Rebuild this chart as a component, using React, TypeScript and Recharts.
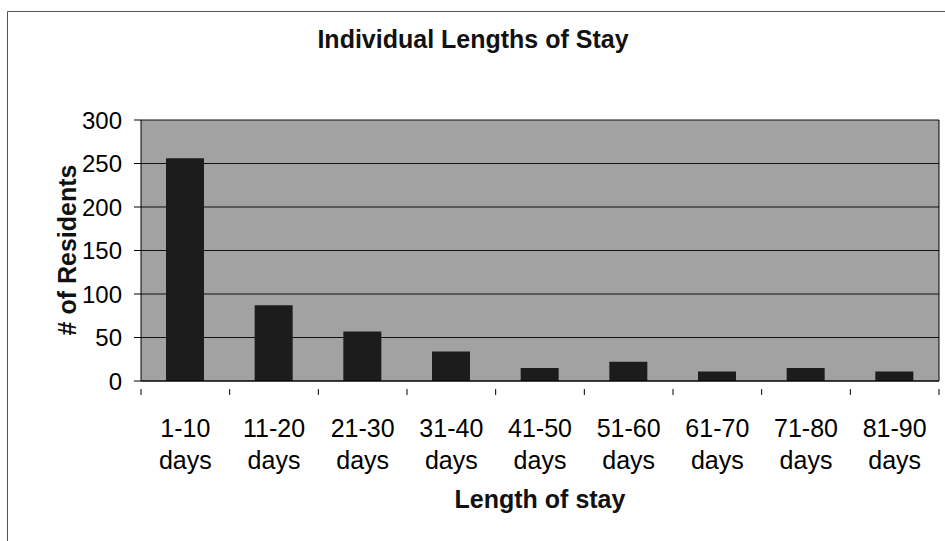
import React from 'react';
import { BarChart, Bar, XAxis, YAxis, CartesianGrid } from 'recharts';

const categories = ['1-10 days', '11-20 days', '21-30 days', '31-40 days', '41-50 days', '51-60 days', '61-70 days', '71-80 days', '81-90 days'];
const residents = [256, 87, 57, 34, 15, 22, 11, 15, 11];
const yTicks = [0, 50, 100, 150, 200, 250, 300];
const title = 'Individual Lengths of Stay';
const xTitle = 'Length of stay';
const yTitle = '# of Residents';

const data = categories.map((c, i) => ({ cat: c, value: residents[i] }));

const FONT = '"Liberation Sans", Arial, sans-serif';

const XTick = (props: any) => {
  const { x, y, payload, index, visibleTicksCount } = props;
  const half = payload && payload.offset ? payload.offset : 798 / 9 / 2;
  const parts = String(payload.value).split(' ');
  const last = index === (visibleTicksCount ?? categories.length) - 1;
  return (
    <g>
      <line x1={x - half} x2={x - half} y1={y} y2={y + 6} stroke="#000" strokeWidth={1} />
      {last && <line x1={x + half} x2={x + half} y1={y} y2={y + 6} stroke="#000" strokeWidth={1} />}
      <text x={x} y={y} textAnchor="middle" fontFamily={FONT} fontSize={25} fill="#000">
        <tspan x={x} dy={48}>{parts[0]}</tspan>
        <tspan x={x} dy={32}>{parts[1]}</tspan>
      </text>
    </g>
  );
};

export default function App() {
  return (
    <div style={{ position: 'absolute', left: 0, top: 0, width: 945, height: 541, background: '#fff', overflow: 'hidden' }}>
      <BarChart
        width={945}
        height={541}
        data={data}
        margin={{ top: 120, right: 0, bottom: 0, left: 0 }}
        barCategoryGap={0}
      >
        <CartesianGrid vertical={false} horizontal={true} stroke="#111" fill="#a2a2a2" fillOpacity={1} />
        <XAxis
          dataKey="cat"
          height={160}
          interval={0}
          tick={<XTick />}
          tickLine={false}
          axisLine={{ stroke: '#000', strokeWidth: 1 }}
        />
        <YAxis
          width={141}
          domain={[0, 300]}
          ticks={yTicks}
          interval={0}
          tickSize={7}
          tickMargin={12}
          tickLine={{ stroke: '#000' }}
          axisLine={{ stroke: '#000', strokeWidth: 1 }}
          tick={{ fontFamily: FONT, fontSize: 24, fill: '#000' }}
        />
        <YAxis
          yAxisId="right"
          orientation="right"
          width={6}
          domain={[0, 300]}
          tick={false}
          tickLine={false}
          axisLine={{ stroke: '#000', strokeWidth: 1 }}
        />
        <Bar dataKey="value" fill="#1c1c1c" barSize={38} isAnimationActive={false} />
      </BarChart>
      <svg width={945} height={541} style={{ position: 'absolute', left: 0, top: 0, pointerEvents: 'none' }}>
        <line x1={7.5} y1={11.5} x2={945} y2={11.5} stroke="#555" strokeWidth={1} />
        <line x1={7.5} y1={11.5} x2={7.5} y2={541} stroke="#555" strokeWidth={1} />
        <text x={473} y={48} textAnchor="middle" fontFamily={FONT} fontWeight="bold" fontSize={25} fill="#111">{title}</text>
        <text x={540} y={508} textAnchor="middle" fontFamily={FONT} fontWeight="bold" fontSize={25} fill="#111">{xTitle}</text>
        <text x={76} y={250} transform="rotate(-90 76 250)" textAnchor="middle" fontFamily={FONT} fontWeight="bold" fontSize={25} fill="#111">{yTitle}</text>
      </svg>
    </div>
  );
}
